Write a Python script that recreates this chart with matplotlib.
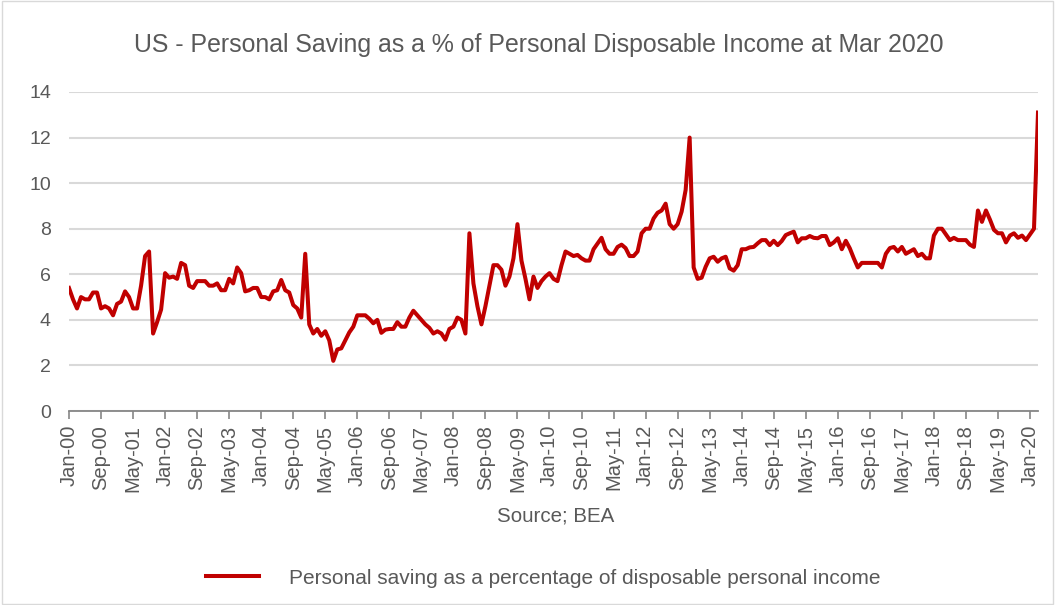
import matplotlib
matplotlib.use("Agg")
import matplotlib.pyplot as plt
import pandas as pd
from matplotlib.patches import Rectangle

dates = pd.date_range("2000-01-01", "2020-03-01", freq="MS")
months = [d.strftime("%b-%y") for d in dates]

saving_rate = [
    5.4, 4.9, 4.5, 5.0, 4.9, 4.9, 5.2, 5.2, 4.5, 4.6,
    4.5, 4.2, 4.7, 4.8, 5.25, 5.0, 4.5, 4.5, 5.5, 6.8,
    7.0, 3.4, 3.9, 4.45, 6.05, 5.85, 5.9, 5.8, 6.5, 6.4,
    5.5, 5.4, 5.7, 5.7, 5.7, 5.5, 5.5, 5.6, 5.3, 5.3,
    5.8,
    5.6, 6.3, 6.05, 5.25, 5.3, 5.4, 5.4, 5.0, 5.0, 4.9,
    5.25, 5.3, 5.75, 5.3, 5.2, 4.65, 4.5, 4.1, 6.9, 3.8,
    3.4, 3.6, 3.3, 3.5, 3.1,
    2.2, 2.7, 2.75, 3.1, 3.45, 3.7, 4.2, 4.2, 4.2, 4.05, 3.85, 4.0,
    3.43, 3.57, 3.6, 3.6, 3.9, 3.7, 3.7, 4.1, 4.4, 4.2,
    4.0, 3.8, 3.65, 3.4, 3.5, 3.4, 3.13, 3.6, 3.7, 4.1,
    4.0, 3.4, 7.8, 5.6, 4.6, 3.8, 4.6, 5.5, 6.4, 6.4,
    6.2, 5.5, 5.9, 6.7, 8.2, 6.6, 5.8, 4.9, 5.9, 5.4,
    5.7, 5.9, 6.05, 5.8, 5.7, 6.4, 7.0, 6.9, 6.8, 6.85,
    6.7, 6.6, 6.6, 7.1, 7.35, 7.6, 7.1, 6.9, 6.9, 7.2,
    7.3, 7.15, 6.8, 6.8, 7.0, 7.8, 8.0, 8.0, 8.45, 8.7,
    8.8, 9.1, 8.2, 8.0, 8.2, 8.75, 9.7, 12.0, 6.3, 5.8,
    5.85, 6.33, 6.7, 6.77, 6.55, 6.7, 6.77, 6.26, 6.16, 6.4,
    7.1, 7.1, 7.18, 7.2, 7.36, 7.5, 7.5, 7.28, 7.47, 7.28,
    7.46, 7.72, 7.8, 7.87, 7.4, 7.58, 7.58, 7.68, 7.6, 7.58,
    7.68, 7.68, 7.28, 7.4, 7.58, 7.1, 7.47, 7.14, 6.7, 6.3,
    6.5, 6.5, 6.5, 6.5, 6.5, 6.3, 6.9, 7.15, 7.2, 7.0,
    7.2, 6.9, 7.0, 7.1, 6.8, 6.9, 6.7, 6.7, 7.7, 8.0,
    8.0, 7.75, 7.5, 7.6, 7.5, 7.5, 7.5, 7.3, 7.2, 8.8,
    8.3, 8.8, 8.4, 7.95, 7.8, 7.8, 7.4, 7.7, 7.8, 7.6,
    7.7, 7.5, 7.75, 8.0, 13.1,
]

y_ticks = [0, 2, 4, 6, 8, 10, 12, 14]
title = "US - Personal Saving as a % of Personal Disposable Income at Mar 2020"
source = "Source; BEA"
series_name = "Personal saving as a percentage of disposable personal income"

plt.rcParams['font.family'] = ['Liberation Sans', 'DejaVu Sans']
TXT = "#595959"
RED = "#C00000"

fig = plt.figure(figsize=(10.55, 6.05), dpi=100)
ax = fig.add_axes([69/1055, 1-411/605, (1038-69)/1055, (411-92)/605])

x = list(range(len(saving_rate)))
ax.plot(x, saving_rate, color=RED, linewidth=2.9, solid_joinstyle='round',
        label=series_name, zorder=3)

ax.set_xlim(0, len(saving_rate) - 1)
ax.set_ylim(0, 14)
ax.set_yticks(y_ticks)
ax.yaxis.grid(True, color="#d9d9d9", linewidth=1.5, zorder=0)
ax.set_axisbelow(True)

tick_pos = x[::8]
ax.set_xticks(tick_pos)
ax.set_xticklabels([months[i] for i in tick_pos], rotation=90, color=TXT, fontsize=14.5)
ax.tick_params(axis='x', direction='out', length=6, width=1.2, color="#868686", pad=4)
ax.tick_params(axis='y', length=0, labelcolor=TXT, labelsize=14, pad=13)

for s in ['top', 'right', 'left']:
    ax.spines[s].set_visible(False)
ax.spines['bottom'].set_color("#868686")
ax.spines['bottom'].set_linewidth(1.3)

fig.text(539/1055, 1-45/605, title, ha='center', va='center', fontsize=17.9, color=TXT)
fig.text(556/1055, 1-516/605, source, ha='center', va='center', fontsize=14.8, color=TXT)

leg = fig.legend(loc='center', bbox_to_anchor=(543.5/1055, 1-578/605), frameon=False,
                 fontsize=15, handlelength=2.55, handletextpad=1.45,
                 borderpad=0, borderaxespad=0)
for t in leg.get_texts():
    t.set_color(TXT)

fig.patches.append(Rectangle((0.002, 0.002), 0.996, 0.996, transform=fig.transFigure,
                             fill=False, edgecolor="#d9d9d9", linewidth=1))

fig.savefig("out.png", dpi=100)
